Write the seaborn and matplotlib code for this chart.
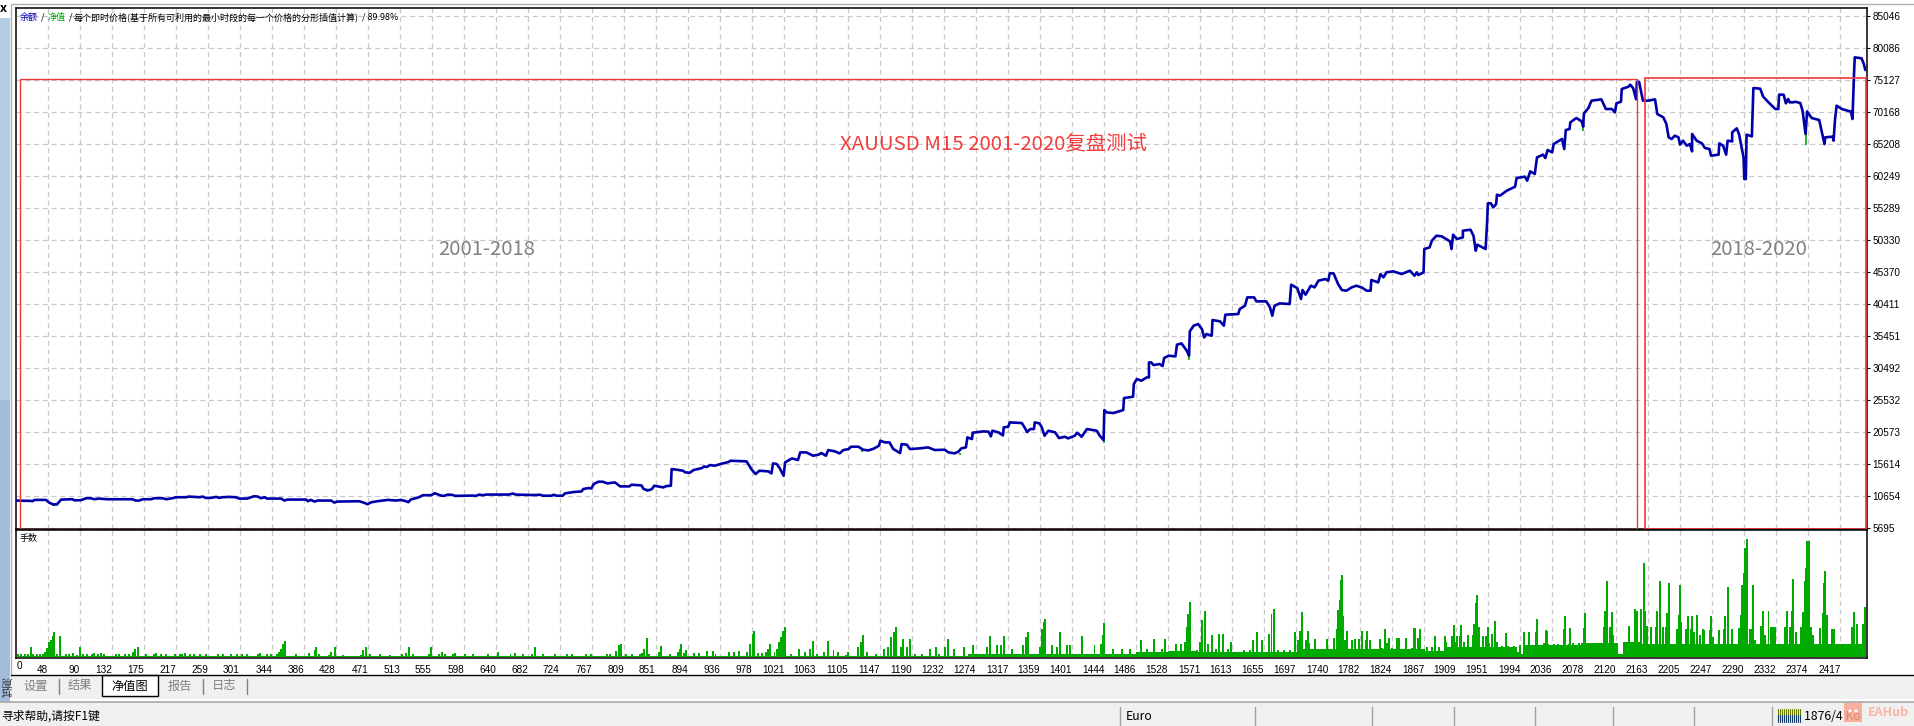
import numpy as np
import pandas as pd
import seaborn as sns
import matplotlib.pyplot as plt
from matplotlib.patches import Rectangle, Circle

# balance curve: trade number / balance
eq_t = [5, 25, 27, 30, 45, 49, 55, 60, 65, 80, 82, 91, 98, 104, 109, 115, 126, 159, 164, 168, 173, 184, 188, 199, 204,
        212, 217, 230, 234, 248, 252, 256, 263, 270, 274, 278, 287, 296, 300, 311, 320, 325, 329, 334, 337, 356, 360,
        364, 389, 391, 395, 400, 404, 422, 426, 430, 459, 466, 470, 475, 483, 497, 508, 514, 521, 524, 527, 538, 543,
        554, 559, 567, 571, 576, 582, 586, 609, 613, 618, 622, 627, 657, 662, 666,
        672, 691, 698, 702, 713, 716, 720, 728, 731, 742, 753, 755, 762, 766, 769, 775, 781, 787, 797, 804, 816, 819,
        832, 835, 841, 846, 849, 861, 865, 871, 872, 879, 887, 890, 896, 901, 912, 915, 918, 923, 929, 938, 947, 950,
        971, 978, 983, 988, 1000, 1004, 1006, 1011, 1015, 1020, 1022, 1031, 1039, 1042, 1050, 1059, 1066, 1070, 1076,
        1079, 1088, 1094, 1099, 1106, 1109, 1119, 1125, 1132, 1139, 1146, 1148, 1154, 1160, 1165, 1174, 1176, 1183,
        1187, 1200, 1211, 1220, 1233, 1238, 1246, 1251, 1255, 1261, 1263, 1269, 1270, 1284, 1291, 1294, 1296, 1304,
        1310, 1311, 1317, 1319, 1335, 1339, 1342, 1346, 1351, 1352, 1358, 1361, 1365, 1370, 1379, 1384, 1392, 1396,
        1405, 1408, 1414, 1421, 1434, 1438, 1443, 1444, 1447, 1456, 1469, 1470, 1482, 1483, 1487, 1493, 1500, 1503,
        1503, 1506, 1509, 1517, 1521, 1523, 1529, 1538, 1540, 1546, 1553, 1556, 1557,
        1562, 1568, 1573, 1576, 1579, 1586, 1587, 1597, 1602, 1604, 1621, 1623, 1630, 1633, 1642, 1645, 1658, 1663,
        1666, 1669, 1676, 1689, 1691, 1699, 1704, 1706, 1710, 1717, 1722, 1727, 1736, 1740, 1742, 1747, 1753, 1758,
        1764, 1771, 1777, 1784, 1791, 1796, 1797, 1806, 1809, 1813, 1817, 1826, 1837, 1848, 1854, 1857, 1859, 1866,
        1867, 1874, 1877, 1883, 1890, 1901, 1903, 1905, 1910, 1918, 1918, 1928, 1932, 1935, 1937, 1948, 1950, 1951,
        1955, 1958, 1962, 1963, 1967,
        1976, 1987, 1989, 2000, 2003, 2007, 2013, 2016, 2024, 2027, 2030, 2036, 2038, 2049, 2052, 2054, 2059, 2060,
        2068, 2075, 2077, 2078, 2084, 2088, 2101, 2107, 2115, 2119, 2121, 2127, 2128, 2137, 2139, 2143, 2147, 2148,
        2151, 2156, 2163, 2172, 2175, 2183, 2187, 2190, 2194, 2198, 2203, 2205, 2209, 2214, 2218, 2221, 2221, 2227,
        2234, 2238, 2244, 2246, 2256, 2257, 2262, 2266, 2268, 2274, 2274, 2280, 2283, 2286, 2289, 2290, 2292, 2293,
        2300, 2302, 2311, 2315, 2322, 2331, 2335, 2336, 2342, 2345, 2348, 2350, 2355, 2357, 2364, 2367, 2369, 2371,
        2373, 2379, 2389, 2394, 2396, 2397, 2407, 2408, 2410, 2412, 2419, 2431, 2433, 2435, 2436, 2445, 2448, 2450]
eq_v = [9957, 9906, 9854, 10061, 10061, 9647, 9337, 9441, 10112, 10164, 10009, 10009, 10319, 10319, 10164, 10267, 10164,
        10164, 9957, 9957, 10164, 10164, 10319, 10319, 10164, 10319, 10474, 10474, 10577, 10474, 10577, 10371, 10371,
        10526, 10371, 10474, 10526, 10474, 10267, 10267, 10629, 10577, 10319, 10474, 10267, 10267, 9957, 10112, 10112,
        9854, 10061, 9802, 9957, 9957, 9647, 9802, 9854, 9596, 9389, 9699, 9854, 10061, 9957, 10061, 9854, 9699, 10112,
        10474, 10784, 10784, 11094, 10732, 10681, 10887, 10836, 10681, 10732, 10681, 10887, 10784, 10887, 10887, 11042,
        10887,
        10862, 10811, 10862, 10707, 10707, 10862, 10707, 10707, 11069, 11276, 11379, 11741, 11896, 11844, 12516, 12877,
        12877, 12619, 12774, 12154, 12154, 12412, 12309, 11741, 11534, 11741, 12257, 11999, 12205, 12257, 14840, 14737,
        14582, 14324, 14272, 14685, 14995, 15253, 15150, 15460, 15357, 15667, 15925, 16132, 16029, 14737, 14066, 14582,
        14479, 14169, 15718, 15615, 14943, 13807, 15873, 16493, 16235, 17423, 17423, 16907, 17061, 17320, 16907, 17785,
        17578, 17268, 17785, 17940, 18301, 18301, 17836, 17733, 17991, 18456, 19231, 18973, 18973, 17940, 17320, 18715,
        18612, 17940, 18043, 18198, 17785, 17836, 17423, 17268, 17526, 18043, 18198, 19748, 19490, 20471, 20678, 20626,
        19903, 20781, 20523, 20058, 21298, 21401, 22072, 21969, 21194, 20574, 21039, 21039, 22072, 21917, 21401, 20006,
        20781, 20523, 19644, 19851, 19593, 20006, 20471, 19851, 21039, 20781, 20006, 19334, 23984, 23622, 23519, 23984,
        25843, 26050, 28013, 28788, 28530, 29046, 29046, 31371, 31371, 30958, 31113, 30803, 32043, 32404, 32301, 34109,
        34316, 33179, 32404, 36176,
        37054, 37312, 36537, 35246, 35763, 35504, 37932, 37725, 37054, 38759, 38862, 39637, 40153, 41445, 41445, 40825,
        40825, 39895, 38604, 40153, 40515, 40412, 43408, 42892, 41187, 42582, 41858, 43253, 42995, 44029, 44287, 44029,
        45165, 45165, 43511, 42582, 42479, 42995, 43253, 42995, 42479, 42479, 44132, 43770, 45063, 44546, 45321, 45476,
        45063, 45579, 44804, 45321, 44907, 45321, 48936, 49195, 50227, 50999, 50899, 50124, 48936, 51157, 50486, 50744,
        51777, 51932, 50999, 48678, 49608, 48936, 53069, 56014, 56014, 55394, 55911, 57356, 57201,
        57977, 58596, 59940, 60146, 59526, 60973, 60560, 63143, 63557, 63040, 64279, 63918, 65209, 65984, 64434, 67379,
        67534, 68567, 69238, 68722, 67896, 69962, 70789, 71925, 72132, 70634, 70634, 70117, 71512, 71770, 73733, 74095,
        74405, 73888, 72132, 74818, 74818, 71925, 71925, 72132, 69858, 69341, 68309, 66243, 65984, 66501, 66243, 65106,
        65726, 64951, 65209, 64073, 66759, 65726, 65312, 64589, 64434, 63402, 63557, 65312, 64951, 63557, 65726, 65622,
        67017, 67638, 66759, 64951, 63143, 59784, 59784, 66656, 66398, 73888, 73785, 72545, 71667, 70634, 70634, 72855,
        72855, 71512, 72183, 71667, 71667, 71770, 71564, 70376, 68567, 66759, 70272, 69238, 68928, 66243, 65209, 66243,
        66346, 65726, 69083, 71150, 70634, 70220, 69083, 75955, 78641, 78486, 77608, 76678]

# places where equity (green) drops under the balance line
dip_t = [54, 56, 58, 60, 840, 983, 1124, 1253, 1443, 1556, 2077, 2370, 2372]
dip_low = [9130, 9130, 9130, 9130, 11300, 13950, 17500, 17000, 18900, 31800, 67200, 67000, 65100]
dip_high = [9400, 9400, 9400, 9400, 11600, 14300, 17900, 17400, 19400, 32500, 68500, 68600, 67500]

y_ticks = [5695, 10654, 15614, 20573, 25532, 30492, 35451, 40411, 45370, 50330, 55289, 60249, 65208, 70168, 75127,
           80086, 85046]
x_ticks = [48, 90, 132, 175, 217, 259, 301, 344, 386, 428, 471, 513, 555, 598, 640, 682, 724, 767, 809, 851, 894, 936,
           978, 1021, 1063, 1105, 1147, 1190, 1232, 1274, 1317, 1359, 1401, 1444, 1486, 1528, 1571, 1613, 1655, 1697,
           1740, 1782, 1824, 1867, 1909, 1951, 1994, 2036, 2078, 2120, 2163, 2205, 2247, 2290, 2332, 2374, 2417]

# lots, background level: starts at base_t, holds until next entry
base_t = [6, 1264, 1486, 1528, 1565, 1703, 1866, 1893, 1990, 1994, 2000, 2082, 2123, 2130, 2152, 2451]
base_v = [1, 3, 5, 6, 5, 8, 6, 10, 5, 3, 12, 14, 3, 15, 13, 13]

# lots, single spikes above the background
lot_t = [8, 12, 17, 21, 25, 28, 33, 37, 41, 44, 46, 49, 52, 54, 56, 60, 63, 72, 76, 81, 86, 90, 94, 99, 106, 109, 114,
         118, 122, 138, 142, 150, 155, 160, 162, 166, 177, 188, 191, 197, 204, 216, 222, 225, 229, 235, 240, 249, 257,
         272, 279, 289, 297, 304, 311, 325, 328, 337, 343, 350, 353, 355, 358, 361, 375, 392, 400, 402, 406, 419, 422,
         427, 437, 462, 464, 468, 473, 486, 500, 516, 521, 525, 530, 551, 554, 564, 568, 572, 583, 586, 599, 610, 629,
         642, 659, 665, 675, 688, 692, 702, 718, 734, 740, 759, 766, 786, 791, 799, 802, 805, 812, 820,
         830, 833, 836, 839, 842, 855, 858, 870, 880, 883, 884, 888, 891, 901, 908, 919, 927, 930, 948, 955, 961, 972,
         976, 979, 981, 986, 991, 997, 1000, 1002, 1008, 1011, 1014, 1016, 1019, 1022, 1030, 1040, 1048, 1055, 1059,
         1064, 1073, 1079, 1086, 1092, 1103, 1105, 1119, 1122, 1125, 1130, 1142, 1153, 1158, 1162, 1166, 1168, 1175,
         1178, 1183, 1187, 1194, 1203, 1214, 1222, 1226, 1233, 1237, 1245, 1258, 1270, 1278, 1289, 1293, 1302, 1308,
         1312, 1322, 1337, 1341, 1343, 1347, 1359, 1361, 1364, 1366, 1375, 1381, 1386, 1395, 1398, 1409, 1415, 1423,
         1431, 1439, 1442, 1444, 1456, 1467, 1478, 1492, 1500, 1510, 1520, 1524, 1528, 1539, 1545, 1551, 1553, 1555,
         1557, 1567, 1570, 1573, 1577, 1581, 1586, 1591, 1595, 1601, 1608, 1612, 1617, 1628, 1637, 1641, 1646, 1653,
         1662, 1665, 1668, 1673, 1681, 1690, 1696, 1700,
         1703, 1705, 1710, 1713, 1715, 1723, 1732, 1735, 1738, 1740, 1747, 1751, 1753, 1755, 1757, 1758, 1759, 1762,
         1765, 1767, 1771, 1776, 1779, 1781, 1785, 1790, 1791, 1795, 1808, 1811, 1815, 1818, 1820, 1824, 1831, 1834,
         1843, 1851, 1853, 1855, 1859, 1861, 1864, 1867, 1870, 1877, 1881, 1886, 1894, 1896, 1903, 1906, 1908, 1910,
         1914, 1916, 1919, 1925, 1931, 1933, 1935, 1937, 1939, 1941, 1944, 1948, 1951, 1953, 1957, 1960, 1963, 1970,
         1975, 1978, 1985, 1992, 1994, 1999, 2005, 2009, 2014, 2016, 2019, 2025, 2028, 2029, 2031, 2038, 2044, 2051,
         2053, 2058, 2060, 2064, 2071, 2075, 2078, 2079, 2082,
         2104, 2106, 2108, 2109, 2112, 2115, 2116, 2138, 2145, 2146, 2148, 2153, 2154, 2157, 2158, 2159, 2161, 2167,
         2173, 2175, 2178, 2179, 2182, 2186, 2187, 2188, 2191, 2201, 2204, 2205, 2207, 2213, 2215, 2219, 2221, 2224,
         2228, 2231, 2236, 2237, 2245, 2246, 2249, 2257, 2263, 2265, 2268, 2269, 2274, 2283, 2285, 2287, 2289, 2291,
         2293, 2294, 2297, 2300, 2302, 2304, 2312, 2315, 2317, 2322, 2325, 2328, 2331, 2344, 2346, 2350, 2353, 2355,
         2358, 2365, 2368, 2370, 2371, 2373, 2376, 2378, 2381, 2390, 2394, 2395, 2397, 2399, 2406, 2409, 2433, 2435,
         2439, 2447, 2450]
lot_v = [3, 3, 3, 3, 10, 3, 3, 3, 3, 5, 9, 15, 17, 21, 25, 3, 21, 3, 3, 4, 2, 10, 3, 3, 3, 4, 3,
         4, 3, 3, 3, 3, 3, 5, 8, 10, 3, 3, 4, 3, 3, 3, 3, 3, 4, 3, 3, 3, 3,
         3, 3, 3, 3, 3, 3, 3, 4, 3, 3, 3, 5, 8, 13, 16, 3, 4, 7, 10, 3, 2, 5,
         10, 2, 2, 7, 10, 3, 3, 2, 3, 4, 10, 3, 3, 10, 3, 5, 3, 3, 4, 3, 3, 3,
         5, 3, 4, 3, 3, 10, 3, 3, 3, 3, 3, 3, 3, 3, 6, 12, 13, 3, 3,
         3, 4, 8, 19, 3, 5, 11, 3, 5, 8, 13, 4, 7, 4, 4, 6, 6, 3, 5, 5, 6, 5,
         13, 23, 26, 4, 4, 5, 8, 13, 5, 8, 15, 20, 26, 30, 3, 8, 5, 8, 16,
         3, 5, 16, 7, 5, 2, 5, 10, 15, 22, 5, 3, 8, 10, 20, 25, 30, 10,
         18, 10, 18, 3, 3, 8, 10, 3, 10, 18, 8, 10, 12, 3, 10, 21, 12, 12,
         21, 8, 12, 20, 25, 3, 10, 28, 35, 38, 12, 10, 25, 12, 12, 3, 21, 3,
         12, 13, 22, 34, 8, 8, 8, 17, 8, 18, 8, 18, 5, 13, 13, 15, 30, 43,
         55, 7, 15, 37, 46, 13, 22, 8, 23, 23, 8, 15, 5, 7, 7, 17, 25, 17,
         23, 43, 48, 7, 7, 7, 25, 17,
         26, 45, 17, 26, 14, 18, 8, 8, 18, 8, 19, 28, 47, 57, 77, 82, 41, 17,
         26, 8, 17, 18, 8, 18, 26, 17, 26, 17, 18, 9, 28, 14, 19, 9, 19, 19,
         19, 9, 29, 29, 19, 28, 8, 8, 10, 10, 21, 10, 21, 15, 21, 32, 15, 21,
         21, 32, 15, 22, 22, 33, 54, 62, 30, 10, 21, 21, 30, 14, 23, 36, 15, 11,
         24, 11, 11, 5, 12, 25, 25, 12, 25, 38, 12, 14, 27, 26, 13, 13, 13, 28,
         41, 13, 29, 14, 14, 14, 29, 44, 14,
         30, 46, 76, 38, 30, 45, 22, 31, 31, 48, 46, 31, 48, 78, 94, 46, 31, 30,
         30, 46, 76, 38, 30, 30, 29, 44, 74, 28, 42, 72, 35, 28, 41, 28, 41, 25,
         42, 22, 28, 27, 27, 41, 20, 27, 28, 41, 70, 34, 28, 29, 42, 72, 84, 109,
         118, 58, 28, 28, 72, 17, 31, 46, 22, 46, 30, 30, 30, 30, 46, 30, 46, 78,
         25, 30, 45, 76, 89, 116, 116, 30, 22, 29, 44, 74, 86, 42, 28, 28, 30, 45,
         33, 33, 50]

sns.set_theme(style='white')
plt.rcParams['font.family'] = ['Noto Sans CJK SC', 'DejaVu Sans']
tick_font = 'Liberation Sans'
gray_win = '#f0f0f0'

W, H = 1914, 726
fig = plt.figure(figsize=(W / 100, H / 100), dpi=100, facecolor='white')


def pixel_axes(z):
    # full figure axes counted in pixels, for the window chrome
    a = fig.add_axes([0, 0, 1, 1])
    a.set_xlim(0, W)
    a.set_ylim(H, 0)
    a.axis('off')
    a.set_zorder(z)
    return a


frame = pixel_axes(0)
frame.add_patch(Rectangle((0, 18), 10, 690, color='#b4cce6', lw=0))
frame.add_patch(Rectangle((0, 400), 10, 310, color='#a2bcd9', lw=0))
frame.plot([11, 11, W], [676, 4, 4], color='#b0b0b0', lw=1)
frame.text(3, 9, 'x', fontsize=9, fontweight='bold', ha='center', va='center', color='black')
frame.text(5, 687, '测试', fontsize=7.5, rotation=270, ha='center', va='center', color='#222222')
frame.add_patch(Rectangle((11, 675), W, 24, color=gray_win, lw=0))
frame.add_patch(Rectangle((0, 702), W, 24, color=gray_win, lw=0))
frame.plot([0, W], [702, 702], color='#a8a8a8', lw=1.2)
frame.plot([11, W], [675, 675], color='black', lw=1)
frame.add_patch(Rectangle((102, 675), 56, 21, facecolor='white', edgecolor='black', lw=1))
for name, xc, col in [('设置', 36, '#808080'), ('结果', 80, '#808080'), ('净值图', 130, 'black'),
                      ('报告', 180, '#808080'), ('日志', 224, '#808080')]:
    frame.text(xc, 686, name, fontsize=8.8, ha='center', va='center', color=col)
for xs in [59, 202.5, 246.5]:
    frame.plot([xs, xs], [679, 694], color='#808080', lw=1)
frame.text(1, 716, '寻求帮助,请按F1键', fontsize=8.5, va='center', color='black')
for xs in [1120, 1255, 1372, 1454, 1535, 1613, 1693.5, 1772]:
    frame.plot([xs, xs], [707, 725], color='#a0a0a0', lw=1)
frame.text(1126, 716, 'Euro', fontsize=8.8, va='center', color='black')
frame.text(1804, 716, '1876/4 Ko', fontsize=8.8, va='center', color='black')
for i in range(12):
    frame.plot([1778 + i * 2] * 2, [709, 715], color='#6f7f00', lw=0.8)
    frame.plot([1778 + i * 2] * 2, [715, 722], color='#123c66', lw=0.8)
# watermark sits over the status text
frame.add_patch(Rectangle((1844, 703), 18, 19, color='#f9a58f', alpha=0.85, lw=0, zorder=5))
frame.add_patch(Circle((1850, 711), 1.5, color='white', lw=0, zorder=6))
frame.add_patch(Circle((1856, 711), 1.5, color='white', lw=0, zorder=6))
frame.text(1868, 713, 'EAHub', fontsize=9, fontweight='bold', va='center', color='#f9b5a5', zorder=6)

# main panel
ax = fig.add_axes([16.3 / W, 1 - 529.3 / H, (1867.3 - 16.3) / W, (529.3 - 8.3) / H])
ax.set_zorder(1)
ax.set_xlim(5.7, 2452.6)
ax.set_ylim(5505, 86240)
ax.yaxis.tick_right()
ax.set_yticks(y_ticks)
ax.set_xticks(x_ticks)
ax.tick_params(axis='x', length=0, labelbottom=False)
ax.tick_params(axis='y', length=2.4, width=0.8, pad=1.5, labelsize=7.2, colors='black', labelright=True)
for lab in ax.get_yticklabels():
    lab.set_family(tick_font)
ax.set_axisbelow(True)
ax.grid(True, color='#c8c8c8', lw=0.9, ls=(0, (4, 3)))
ax.vlines(dip_t, dip_low, dip_high, color='#00aa00', lw=1.2, zorder=2)
sns.lineplot(x=eq_t, y=eq_v, ax=ax, color='#0000aa', lw=1.9, estimator=None, sort=False, errorbar=None, zorder=3)
ax.add_patch(Rectangle((10, 5618), 2148.5 - 10, 75236 - 5618, fill=False, edgecolor='#ee3a3a', lw=1, zorder=4))
ax.add_patch(Rectangle((2159, 5618), 2451.5 - 2159, 75407 - 5618, fill=False, edgecolor='#ee3a3a', lw=1.2, zorder=4))
ax.text(1298, 65208, 'XAUUSD M15 2001-2020复盘测试', fontsize=14.7, color='#f03c3c', ha='center', va='center')
ax.text(627, 48935, '2001-2018', fontsize=14.6, color='#808080', ha='center', va='center')
ax.text(2309, 48935, '2018-2020', fontsize=14.6, color='#808080', ha='center', va='center')
for sp in ax.spines.values():
    sp.set_color('black')
    sp.set_linewidth(1.1)
ax.set_xlabel('')
ax.set_ylabel('')

# lots panel
ax2 = fig.add_axes([16.3 / W, 1 - 658 / H, (1867.3 - 16.3) / W, (658 - 530.3) / H])
ax2.set_zorder(1)
ax2.set_xlim(5.7, 2452.6)
ax2.set_ylim(-1, 126.7)
ax2.set_yticks([])
ax2.set_xticks(x_ticks)
ax2.set_xticklabels([str(v) for v in x_ticks], ha='right', fontsize=7.2, family=tick_font, color='black')
ax2.tick_params(axis='x', length=2.4, width=0.8, pad=2.5)
ax2.set_axisbelow(True)
ax2.grid(True, axis='x', color='#c8c8c8', lw=0.9, ls=(0, (4, 3)))
ax2.fill_between(base_t, 0, base_v, step='post', color='#00aa00', lw=0, zorder=2)
ax2.bar(lot_t, lot_v, width=2.6, color='#00aa00', lw=0, zorder=2)
for sp in ax2.spines.values():
    sp.set_color('black')
    sp.set_linewidth(1.1)

# terminal legend line and the small panel texts, above the panels
top = pixel_axes(5)
for txt, xp, col in [('余额', 20, '#0000aa'), ('/', 41, 'black'), ('净值', 48, '#00aa00'), ('/', 68.5, 'black'),
                     ('每个即时价格(基于所有可利用的最小时段的每一个价格的分形插值计算)', 74, 'black'),
                     ('/ 89.98%', 362, 'black')]:
    top.text(xp, 17, txt, fontsize=6.5, color=col, va='center')
top.text(20, 539, '手数', fontsize=6.5, color='black', va='center')
top.text(17, 666, '0', fontsize=7.2, family=tick_font, color='black', va='center')

fig.savefig('out.png', dpi=100)
